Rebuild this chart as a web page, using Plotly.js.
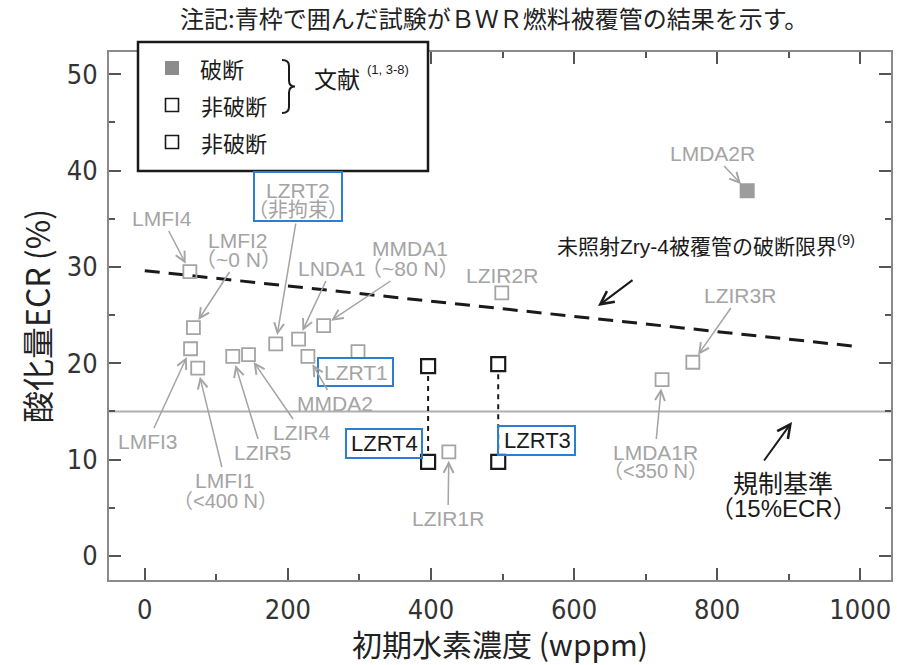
<!DOCTYPE html>
<html><head><meta charset="utf-8">
<script src="https://cdn.plot.ly/plotly-3.0.1.min.js"></script>
<style>html,body{margin:0;padding:0;background:#fff}</style>
</head><body><div id="chart" style="width:897px;height:665px"></div>
<script>
// ---- data ----
const litNames = ['LMFI4','LMFI2','LMFI3','LMFI1','LZIR5','LZIR4','LZRT2','LNDA1','MMDA2','MMDA1','LZRT1','LZIR1R','LZIR2R','LMDA1R','LZIR3R'];
const litH     = [63, 68, 64, 74, 123, 145, 183, 215, 228, 250, 298, 425, 499, 723, 766];
const litECR   = [29.5, 23.7, 21.5, 19.5, 20.7, 20.9, 22.0, 22.5, 20.7, 23.9, 21.2, 10.8, 27.3, 18.3, 20.1];
const brokenNames = ['LMDA2R'];
const brokenH     = [842];
const brokenECR   = [37.9];
const presentNames = ['LZRT4','LZRT4','LZRT3','LZRT3'];
const presentH     = [396, 396, 494, 494];
const presentECR   = [19.7, 9.75, 19.9, 9.75];
const limitH   = [0, 1000];
const limitECR = [29.6, 21.7];
const regLimit = 15;
const xTicks = [0, 200, 400, 600, 800, 1000];
const yTicks = [0, 10, 20, 30, 40, 50];

// ---- geometry ----
const W = 897, H = 665;
const M = {l:109, r:6, t:52, b:85};
const xr = [-50, 1043], yr = [-2.5, 52.3];
const PX = p => (p - M.l) / (W - M.l - M.r);
const PY = p => (H - M.b - p) / (H - M.t - M.b);
const DX = p => xr[0] + PX(p) * (xr[1] - xr[0]);
const DY = p => yr[0] + PY(p) * (yr[1] - yr[0]);

const GRAY = '#a4a4a4', BLUE = '#2b7fd2', INK = '#1a1a1a';
const LAT = '"Liberation Sans", Arial, "Noto Sans CJK JP", sans-serif';
const CJK = '"Noto Sans CJK JP", "Liberation Sans", sans-serif';
const NARROW = '"Liberation Sans Narrow", "DejaVu Sans Condensed", "Liberation Sans", sans-serif';

function pt(name){
  let i = litNames.indexOf(name);
  if (i >= 0) return [litH[i], litECR[i]];
  i = brokenNames.indexOf(name);
  return [brokenH[i], brokenECR[i]];
}
function lab(text, tx, ty, color, size, fam){
  return {xref:'paper', yref:'paper', x:PX(tx), y:PY(ty), text:text, showarrow:false,
          xanchor:'center', yanchor:'middle', font:{family:fam||LAT, size:size||21, color:color||GRAY}};
}
function alab(text, tx, ty, name){
  const p = pt(name);
  return {xref:'x', yref:'y', x:p[0], y:p[1], axref:'x', ayref:'y', ax:DX(tx), ay:DY(ty),
          text:text, showarrow:true, arrowhead:5, arrowsize:1.3, arrowwidth:1.5, arrowcolor:GRAY,
          standoff:9, font:{family:LAT, size:21, color:GRAY}};
}
function arrowOnly(t0x, t0y, hx, hy, color, width, standoff){
  return {xref:'x', yref:'y', x:hx, y:hy, axref:'x', ayref:'y', ax:t0x, ay:t0y, text:'',
          showarrow:true, arrowhead:5, arrowsize:1.3, arrowwidth:width, arrowcolor:color, standoff:standoff||0};
}

// ---- traces ----
const conX = [], conY = [];
for (let i = 0; i < presentH.length; i += 2){
  conX.push(presentH[i], presentH[i+1], null);
  conY.push(presentECR[i], presentECR[i+1], null);
}
const traces = [
  {type:'scatter', mode:'lines', x:limitH, y:limitECR, line:{color:INK, width:3, dash:'15px,9px'}, hoverinfo:'skip', showlegend:false},
  {type:'scatter', mode:'lines', x:conX, y:conY, line:{color:INK, width:2, dash:'5px,5px'}, hoverinfo:'skip', showlegend:false},
  {type:'scatter', mode:'markers', x:litH, y:litECR, text:litNames,
   marker:{symbol:'square-open', size:13, color:GRAY, line:{width:1.8, color:GRAY}}, showlegend:false},
  {type:'scatter', mode:'markers', x:brokenH, y:brokenECR, text:brokenNames,
   marker:{symbol:'square', size:15, color:'#9c9c9c', line:{width:0}}, showlegend:false},
  {type:'scatter', mode:'markers', x:presentH, y:presentECR, text:presentNames,
   marker:{symbol:'square', size:14, color:'#ffffff', line:{width:2.2, color:INK}}, showlegend:false}
];

// ---- shapes ----
function box(x0,y0,x1,y1,color,w,fill){
  return {type:'rect', xref:'paper', yref:'paper', x0:PX(x0), x1:PX(x1), y0:PY(y1), y1:PY(y0),
          line:{color:color, width:w}, fillcolor:fill||'rgba(0,0,0,0)', layer:'above'};
}
const bx0 = 282, bx1 = 289, bx2 = 295, bTop = 60, bMid = 86.5, bBot = 113;
const bracePath = 'M'+PX(bx0)+','+PY(bTop)+' Q'+PX(bx1)+','+PY(bTop)+' '+PX(bx1)+','+PY(bTop+6)+
  ' L'+PX(bx1)+','+PY(bMid-6)+' Q'+PX(bx1)+','+PY(bMid)+' '+PX(bx2)+','+PY(bMid)+
  ' Q'+PX(bx1)+','+PY(bMid)+' '+PX(bx1)+','+PY(bMid+6)+
  ' L'+PX(bx1)+','+PY(bBot-6)+' Q'+PX(bx1)+','+PY(bBot)+' '+PX(bx0)+','+PY(bBot);
const shapes = [
  {type:'line', xref:'paper', yref:'y', x0:0, x1:1, y0:regLimit, y1:regLimit, line:{color:'#b0b0b0', width:2}, layer:'below'},
  box(138, 42, 428, 171, INK, 2.5, '#ffffff'),
  box(165, 61, 179, 75, '#8c8c8c', 0, '#8c8c8c'),
  box(165.5, 98.5, 178.5, 111.5, INK, 1.6),
  box(165.5, 135.5, 178.5, 148.5, INK, 1.6),
  {type:'path', xref:'paper', yref:'paper', path:bracePath, line:{color:INK, width:2}, layer:'above'},
  box(254, 172, 342, 221, BLUE, 2),
  box(318, 358, 393, 386, BLUE, 2),
  box(346, 429, 422, 458, BLUE, 2),
  box(498, 426, 575, 455, BLUE, 2)
];

// ---- annotations ----
const lz2 = pt('LZRT2');
const annotations = [
  lab('注記:青枠で囲んだ試験がＢＷＲ燃料被覆管の結果を示す。', 494, 18, '#222', 24, CJK),
  // legend
  lab('破断', 222, 68, INK, 22, CJK),
  lab('非破断', 234, 105, INK, 22, CJK),
  lab('非破断', 234, 142, INK, 22, CJK),
  lab('文献', 337, 78, INK, 23, CJK),
  lab('(1, 3-8)', 388, 70, INK, 13, LAT),
  // literature labels
  alab('LMFI4', 162, 218, 'LMFI4'),
  lab('LMFI2', 238, 240),
  alab('（~0 N）', 238, 259, 'LMFI2'),
  alab('LMFI3', 148, 441, 'LMFI3'),
  alab('LMFI1', 225, 480, 'LMFI1'),
  lab('（<400 N）', 225, 501, GRAY, 20),
  alab('LZIR5', 262, 452, 'LZIR5'),
  alab('LZIR4', 302, 432, 'LZIR4'),
  lab('LZRT2', 298, 190),
  lab('（非拘束）', 298, 210, GRAY, 20),
  arrowOnly(DX(296), DY(222), lz2[0], lz2[1], GRAY, 1.5, 9),
  alab('LNDA1', 332, 268, 'LNDA1'),
  lab('MMDA1', 410, 249),
  alab('（~80 N）', 410, 268, 'MMDA1'),
  alab('MMDA2', 335, 403, 'MMDA2'),
  lab('LZRT1', 356, 372),
  lab('LZIR2R', 502, 275),
  alab('LZIR1R', 448, 518, 'LZIR1R'),
  alab('LMDA1R', 655, 452, 'LMDA1R'),
  lab('（<350 N）', 655, 471, GRAY, 20),
  alab('LZIR3R', 740, 295, 'LZIR3R'),
  alab('LMDA2R', 712, 153, 'LMDA2R'),
  // this work
  lab('LZRT4', 384, 443.5, INK, 22),
  lab('LZRT3', 537, 440.5, INK, 22),
  // reference curves
  lab('未照射Zry-4被覆管の破断限界<sup>(9)</sup>', 706, 245, INK, 21, LAT),
  arrowOnly(DX(634), DY(279), DX(598), DY(306), INK, 2, 0),
  lab('規制基準', 783, 482, INK, 25, CJK),
  lab('（15%ECR）', 783, 508, INK, 24, LAT),
  arrowOnly(DX(763), DY(462), DX(792), DY(422), INK, 2, 0)
];

const axisCommon = {
  showline:true, linecolor:'#8a8a8a', linewidth:2, mirror:'ticks',
  ticks:'inside', ticklen:12, tickwidth:2, tickcolor:'#555',
  showgrid:false, zeroline:false,
  tickfont:{family:NARROW, size:27, color:'#333'}
};
const layout = {
  width:W, height:H, margin:M, paper_bgcolor:'#fff', plot_bgcolor:'#fff',
  showlegend:false,
  xaxis:Object.assign({}, axisCommon, {
    range:xr, tickvals:xTicks, ticktext:xTicks.map(String), ticklabelstandoff:5,
    minor:{dtick:100, tick0:0, ticks:'inside', ticklen:6, tickwidth:2, tickcolor:'#555'},
    title:{text:'初期水素濃度 (wppm)', font:{family:'"Liberation Sans Narrow", "Noto Sans CJK JP", "Liberation Sans", sans-serif', size:30, color:'#222'}, standoff:11}
  }),
  yaxis:Object.assign({}, axisCommon, {
    range:yr, tickvals:yTicks, ticktext:yTicks.map(String), ticklabelstandoff:4,
    minor:{dtick:5, tick0:0, ticks:'inside', ticklen:6, tickwidth:2, tickcolor:'#555'},
    title:{text:'酸化量ECR (%)', font:{family:'"Noto Sans CJK JP", "Liberation Sans", sans-serif', size:32, color:'#222'}, standoff:6}
  }),
  shapes:shapes, annotations:annotations
};
Plotly.newPlot('chart', traces, layout, {staticPlot:true, displayModeBar:false});
</script></body></html>
